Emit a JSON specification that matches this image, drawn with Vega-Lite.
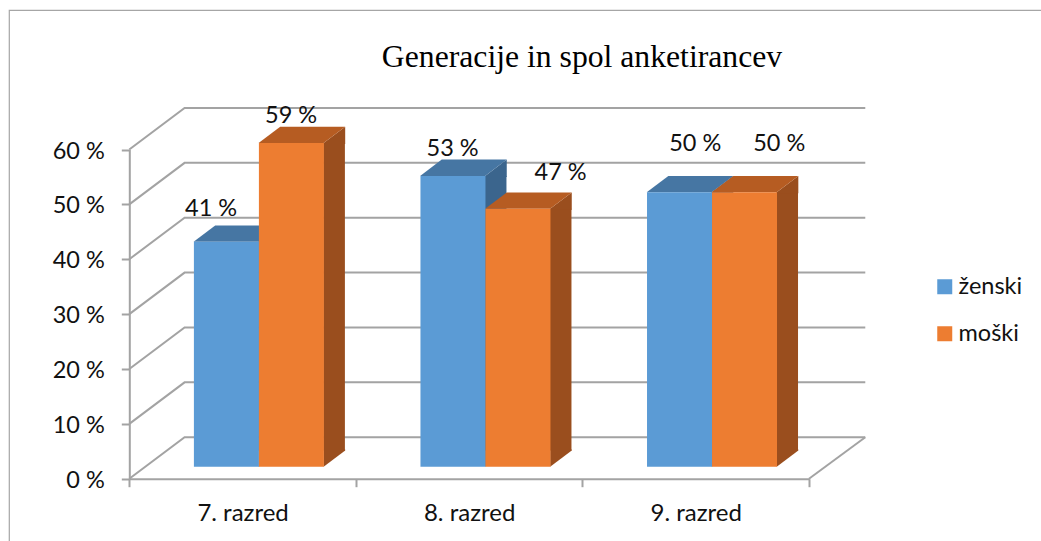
{
"$schema":"https://vega.github.io/schema/vega-lite/v6.json",
"width":1040,"height":540,
"autosize":{"type":"none"},
"padding":{"left":9,"top":10,"right":0,"bottom":0},
"background":"white",
"view":{"stroke":"#a6a6a6","strokeWidth":1.2,"fill":"white"},
"title":{"text":"Generacije in spol anketirancev","font":"Liberation Serif","fontSize":31.7,"fontWeight":"normal","color":"#000000","anchor":"middle","frame":"group","dx":53,"offset":-89,"baseline":"alphabetic"},
"datasets":{
"bars":[
{"razred":"7. razred","spol":"ženski","delez":41,"oznaka":"41 %"},
{"razred":"7. razred","spol":"moški","delez":59,"oznaka":"59 %"},
{"razred":"8. razred","spol":"ženski","delez":53,"oznaka":"53 %"},
{"razred":"8. razred","spol":"moški","delez":47,"oznaka":"47 %"},
{"razred":"9. razred","spol":"ženski","delez":50,"oznaka":"50 %"},
{"razred":"9. razred","spol":"moški","delez":50,"oznaka":"50 %"}
],
"grid":[{"t":0},{"t":10},{"t":20},{"t":30},{"t":40},{"t":50},{"t":60}]
},
"resolve":{"scale":{"x":"independent"},"axis":{"x":"independent"}},
"layer":[
{"data":{"name":"grid"},
 "mark":{"type":"point","shape":"M-113.3,0L-58,-41.5L622.7,-41.5","size":4,"filled":false,"stroke":"#a3a3a3","strokeWidth":2,"opacity":1},
 "encoding":{
  "x":{"datum":"7. razred","type":"nominal","title":null,"axis":{"orient":"bottom","offset":-71.3,"tickBand":"extent","tickSize":8,"tickWidth":2,"tickColor":"#a3a3a3","domainColor":"#a3a3a3","domainWidth":2,"labelAngle":0,"labelFont":"Lato","labelFontSize":24,"labelColor":"#111111","labelPadding":15,"grid":false},
   "scale":{"type":"band","domain":["7. razred","8. razred","9. razred"],"range":[120.3,800],"paddingInner":0,"paddingOuter":0}},
  "y":{"field":"t","type":"quantitative","title":null,
   "axis":{"orient":"left","offset":-120.3,"values":[0,10,20,30,40,50,60],"labelExpr":"datum.value + ' %'","tickSize":8,"tickWidth":2,"tickColor":"#a3a3a3","domainColor":"#a3a3a3","domainWidth":2,"labelFont":"Lato","labelFontSize":23.5,"labelColor":"#111111","labelPadding":17,"labelOffset":1.5,"grid":false},
   "scale":{"domain":[0,60],"range":[468.7,139.5],"nice":false}}
 }},
{"data":{"name":"grid"},
 "transform":[{"filter":"datum.t === 0"}],
 "mark":{"type":"point","shape":"M622.7,-41.5L566.4,0","size":4,"filled":false,"stroke":"#a3a3a3","strokeWidth":2,"opacity":1},
 "encoding":{
  "x":{"datum":"7. razred","type":"nominal","axis":null,"scale":{"type":"band","domain":["7. razred","8. razred","9. razred"],"range":[120.3,800],"paddingInner":0.4263,"paddingOuter":0.2132}},
  "y":{"field":"t","type":"quantitative"}
 }},
{"data":{"name":"bars"},
 "mark":{"type":"bar","width":21.6,"yOffset":-12,"y2Offset":-28.3,"stroke":null},
 "encoding":{
  "x":{"field":"razred","type":"nominal","axis":null,"scale":{"type":"band","domain":["7. razred","8. razred","9. razred"],"range":[179.3,859],"paddingInner":0.4263,"paddingOuter":0.2132}},
  "xOffset":{"field":"spol","type":"nominal","scale":{"domain":["ženski","moški"],"range":[0,130]}},
  "y":{"field":"delez","type":"quantitative"},"y2":{"datum":0},
  "fill":{"condition":{"test":"datum.spol === 'ženski'","value":"#3b658d"},"value":"#9a4e1e"}}},
{"data":{"name":"bars"},
 "encoding":{
  "x":{"field":"razred","type":"nominal","axis":null,"scale":{"type":"band","domain":["7. razred","8. razred","9. razred"],"range":[120.3,800],"paddingInner":0.4263,"paddingOuter":0.2132}},
  "xOffset":{"field":"spol","type":"nominal","scale":{"domain":["ženski","moški"],"range":[0,130]}},
  "y":{"field":"delez","type":"quantitative"}
 },
 "layer":[
  {"mark":{"type":"point","shape":"M48.5,-12L70.1,-28.3L70.1,-11L48.5,-11Z","size":4,"filled":true,"opacity":1,"strokeWidth":0},
   "encoding":{"fill":{"condition":{"test":"datum.spol === 'ženski'","value":"#3b658d"},"value":"#9a4e1e"}}},
  {"mark":{"type":"point","shape":"M48.5,-29.3L70.1,-29.3L70.1,-28.3L48.5,-12Z","size":4,"filled":true,"opacity":1,"strokeWidth":0},
   "encoding":{"y":{"datum":0},"fill":{"condition":{"test":"datum.spol === 'ženski'","value":"#3b658d"},"value":"#9a4e1e"}}},
  {"mark":{"type":"point","shape":"M-16.5,-12L48.5,-12L70.1,-28.3L5.1,-28.3Z","size":4,"filled":true,"opacity":1,"strokeWidth":0},
   "encoding":{"fill":{"condition":{"test":"datum.spol === 'ženski'","value":"#4676a3"},"value":"#b65c22"}}}
 ]},
{"data":{"name":"bars"},
 "mark":{"type":"bar","yOffset":-12,"y2Offset":-12,"stroke":null},
 "encoding":{
  "x":{"field":"razred","type":"nominal","axis":null,"scale":{"type":"band","domain":["7. razred","8. razred","9. razred"],"range":[136.6,816.3],"paddingInner":0.4263,"paddingOuter":0.2132}},
  "xOffset":{"field":"spol","type":"nominal","scale":{"domain":["ženski","moški"],"range":[0,130]}},
  "y":{"field":"delez","type":"quantitative"},"y2":{"datum":0},
  "color":{"field":"spol","type":"nominal","scale":{"domain":["ženski","moški"],"range":["#5b9bd5","#ed7d31"]},
   "legend":{"title":null,"orient":"none","legendX":924,"legendY":265,"symbolType":"square","symbolSize":225,"symbolStrokeWidth":0,"labelFont":"Lato","labelFontSize":23.5,"labelColor":"#111111","labelOffset":2,"rowPadding":22,"labelLimit":120}}}},
{"data":{"name":"bars"},
 "encoding":{
  "x":{"field":"razred","type":"nominal","axis":null,"scale":{"type":"band","domain":["7. razred","8. razred","9. razred"],"range":[120.3,800],"paddingInner":0.4263,"paddingOuter":0.2132}},
  "xOffset":{"field":"spol","type":"nominal","scale":{"domain":["ženski","moški"],"range":[0,130]}},
  "y":{"field":"delez","type":"quantitative"},
  "text":{"field":"oznaka"}
 },
 "layer":[
  {"transform":[{"filter":"datum.razred === '7. razred' && datum.spol === 'ženski'"}],"mark":{"type":"text","font":"Lato","fontSize":23.5,"color":"#111111","dx":1,"dy":-44.5,"align":"center","baseline":"middle"}},
  {"transform":[{"filter":"datum.razred === '7. razred' && datum.spol === 'moški'"}],"mark":{"type":"text","font":"Lato","fontSize":23.5,"color":"#111111","dx":16,"dy":-38.5,"align":"center","baseline":"middle"}},
  {"transform":[{"filter":"datum.razred === '8. razred' && datum.spol === 'ženski'"}],"mark":{"type":"text","font":"Lato","fontSize":23.5,"color":"#111111","dx":16,"dy":-38.5,"align":"center","baseline":"middle"}},
  {"transform":[{"filter":"datum.razred === '8. razred' && datum.spol === 'moški'"}],"mark":{"type":"text","font":"Lato","fontSize":23.5,"color":"#111111","dx":59,"dy":-47.5,"align":"center","baseline":"middle"}},
  {"transform":[{"filter":"datum.razred === '9. razred' && datum.spol === 'ženski'"}],"mark":{"type":"text","font":"Lato","fontSize":23.5,"color":"#111111","dx":32,"dy":-60.5,"align":"center","baseline":"middle"}},
  {"transform":[{"filter":"datum.razred === '9. razred' && datum.spol === 'moški'"}],"mark":{"type":"text","font":"Lato","fontSize":23.5,"color":"#111111","dx":51,"dy":-60.5,"align":"center","baseline":"middle"}}
 ]}
]
}
